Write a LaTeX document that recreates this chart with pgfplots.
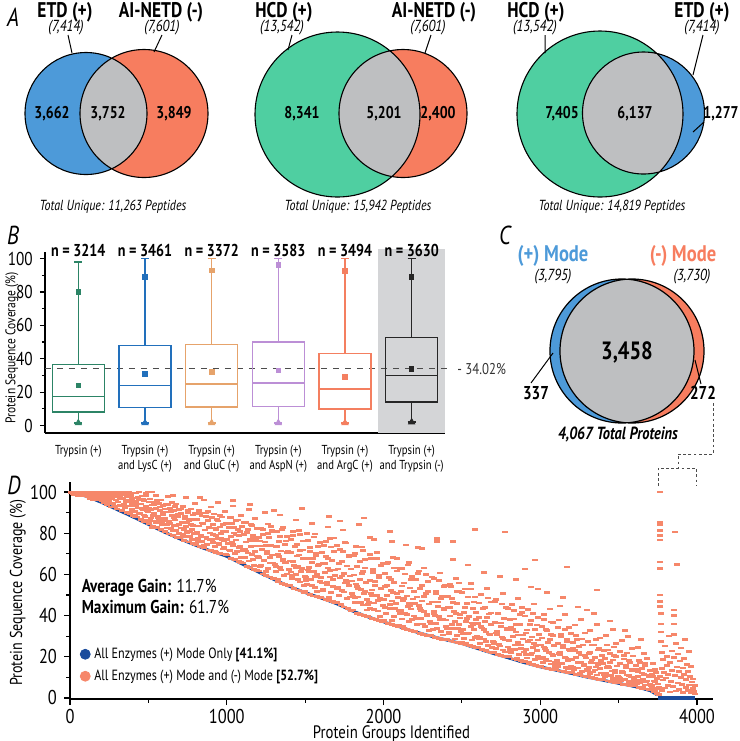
\documentclass[border=0pt]{standalone}
\usepackage{fontspec}
\setmainfont{PT Sans}[FakeStretch=0.82]
\usepackage{pgfplots}
\pgfplotsset{compat=1.18}
\usepgfplotslibrary{statistics}
\newcommand{\fs}[2]{\fontsize{#1}{#2}\selectfont}
\definecolor{vblue}{HTML}{4D9AD9}
\definecolor{vorange}{HTML}{F77D5F}
\definecolor{vgreen}{HTML}{4FCFA1}
\definecolor{vgray}{HTML}{BEBFC1}
\definecolor{bgreen}{HTML}{2C8466}
\definecolor{bblue}{HTML}{2270BC}
\definecolor{btan}{HTML}{E6A36B}
\definecolor{bpurple}{HTML}{BC8FD6}
\definecolor{bred}{HTML}{F47F60}
\definecolor{bgshade}{HTML}{D4D5D7}
\definecolor{dblue}{HTML}{1B4C9C}
\definecolor{dorange}{HTML}{F6876A}
\begin{document}
\begin{tikzpicture}
\useasboundingbox (0,0) rectangle (370pt,-370.5pt);
\begin{scope}[x=0.5pt,y=-0.5pt]
% ---------- Panel A ----------
\node[font=\fs{13}{14}\itshape] at (13,17) {A};
% Venn 1
\fill[vblue] (86,113.5) circle[radius=61];
\fill[vorange] (144,113.5) circle[radius=64];
\begin{scope}\clip (86,113.5) circle[radius=61]; \fill[vgray] (144,113.5) circle[radius=64];\end{scope}
\draw[line width=0.55pt] (86,113.5) circle[radius=61] (144,113.5) circle[radius=64];
\draw[line width=0.5pt] (68,35)--(72,53) (162,35)--(154,52);
\node[font=\fs{10.6}{12}\bfseries] at (65,12) {ETD (+)};
\node[font=\fs{10.6}{12}\bfseries] at (161,12) {AI-NETD (-)};
\node[font=\fs{8}{9}\itshape] at (66,28) {(7,414)};
\node[font=\fs{8}{9}\itshape] at (162,28) {(7,601)};
\node[font=\fs{8.5}{9}\bfseries] at (52,114) {3,662};
\node[font=\fs{8.5}{9}\bfseries] at (108,114) {3,752};
\node[font=\fs{8.5}{9}\bfseries] at (174,114) {3,849};
\node[font=\fs{7.3}{8}\itshape] at (113,207) {Total Unique: 11,263 Peptides};
% Venn 2
\fill[vgreen] (337.5,114.5) circle[radius=82.5];
\fill[vorange] (403,113.5) circle[radius=64];
\begin{scope}\clip (337.5,114.5) circle[radius=82.5]; \fill[vgray] (403,113.5) circle[radius=64];\end{scope}
\draw[line width=0.55pt] (337.5,114.5) circle[radius=82.5] (403,113.5) circle[radius=64];
\draw[line width=0.5pt] (292,35)--(288,50) (431,35)--(425,53);
\node[font=\fs{10.6}{12}\bfseries] at (284,12) {HCD (+)};
\node[font=\fs{10.6}{12}\bfseries] at (434,12) {AI-NETD (-)};
\node[font=\fs{8}{9}\itshape] at (282,28) {(13,542)};
\node[font=\fs{8}{9}\itshape] at (428,28) {(7,601)};
\node[font=\fs{8.5}{9}\bfseries] at (302,114) {8,341};
\node[font=\fs{8.5}{9}\bfseries] at (384,114) {5,201};
\node[font=\fs{8.5}{9}\bfseries] at (438,114) {2,400};
\node[font=\fs{7.3}{8}\itshape] at (358,207) {Total Unique: 15,942 Peptides};
% Venn 3
\fill[vgreen] (600,114) circle[radius=83];
\fill[vblue] (643.5,113) circle[radius=61];
\begin{scope}\clip (600,114) circle[radius=83]; \fill[vgray] (643.5,113) circle[radius=61];\end{scope}
\draw[line width=0.55pt] (600,114) circle[radius=83] (643.5,113) circle[radius=61];
\draw[line width=0.5pt] (545,35)--(545,53) (703,35)--(693,75) (704,122)--(693,132);
\node[font=\fs{10.6}{12}\bfseries] at (536,12) {HCD (+)};
\node[font=\fs{10.6}{12}\bfseries] at (702,12) {ETD (+)};
\node[font=\fs{8}{9}\itshape] at (535,28) {(13,542)};
\node[font=\fs{8}{9}\itshape] at (702,28) {(7,414)};
\node[font=\fs{8.5}{9}\bfseries] at (562,114) {7,405};
\node[font=\fs{8.5}{9}\bfseries] at (635,114) {6,137};
\node[font=\fs{8.5}{9}\bfseries] at (721,114) {1,277};
\node[font=\fs{7.3}{8}\itshape] at (612,207) {Total Unique: 14,819 Peptides};
% ---------- Panel B / C / D letters ----------
\node[font=\fs{13}{14}\itshape] at (13,235) {B};
\node[font=\fs{13}{14}\itshape] at (505,235) {C};
\node[font=\fs{13}{14}\itshape] at (14,485) {D};
% ---------- Panel C ----------
\fill[vblue] (622,351) circle[radius=72];
\fill[vorange] (632,351) circle[radius=72];
\begin{scope}\clip (622,351) circle[radius=72]; \fill[vgray] (632,351) circle[radius=72];\end{scope}
\draw[line width=0.6pt] (622,351) circle[radius=72] (632,351) circle[radius=72];
\draw[line width=0.5pt] (531,383)--(553,353) (701,384)--(695,360);
\node[font=\fs{11.3}{13}\bfseries, text=vblue] at (553,256) {(+) Mode};
\node[font=\fs{11.3}{13}\bfseries, text=vorange] at (683,256) {(-) Mode};
\node[font=\fs{8}{9}\itshape] at (553,277) {(3,795)};
\node[font=\fs{8}{9}\itshape] at (692,277) {(3,730)};
\node[font=\fs{12.5}{14}\bfseries] at (627,352) {3,458};
\node[font=\fs{9.3}{10}\bfseries] at (536,393) {337};
\node[font=\fs{9.3}{10}\bfseries] at (703,393) {272};
\node[font=\fs{8.8}{10}\bfseries\itshape] at (618,435) {4,067 Total Proteins};
\draw[gray!60!black, line width=0.5pt, dash pattern=on 1.4pt off 1.2pt] (713,403)--(713,454)--(678,454)--(678,468) (658,486)--(658,468)--(696,468)--(696,486);
\end{scope}
% ---------- Panel B axis ----------
\begin{axis}[at={(22.5pt,-216.5pt)}, anchor=south west, scale only axis,
  width=200pt, height=90.5pt,
  xmin=0.5, xmax=6.5, ymin=-4.5, ymax=104,
  axis lines=left, axis line style={-, line width=0.6pt},
  tick align=outside, tick style={black, line width=0.6pt},
  major tick length=2.6pt, minor tick length=1.6pt,
  ytick={0,20,...,100}, minor y tick num=1,
  xtick={1,2,3,4,5,6}, major x tick style={draw=none},
  xticklabels={Trypsin (+), {Trypsin (+)\\and LysC (+)}, {Trypsin (+)\\and GluC (+)}, {Trypsin (+)\\and AspN (+)}, {Trypsin (+)\\and ArgC (+)}, {Trypsin (+)\\and Trypsin (-)}},
  xticklabel style={align=center, font=\fs{6.5}{7.6}},
  yticklabel style={font=\fs{9.3}{10}},
  /pgf/number format/assume math mode=true,
  ylabel={Protein Sequence Coverage (\%)},
  ylabel style={font=\fs{7}{8}, at={(axis description cs:-0.0825,0.47)}, anchor=center},
  clip=false]
\addplot[fill=bgshade, draw=none] coordinates {(5.5,-4.2)(5.5,106)(6.5,106)(6.5,-4.2)} --cycle;
\addplot[dashed, gray!60!black, line width=0.6pt] coordinates {(0.5,34.02)(6.6,34.02)};
\node[anchor=west, font=\fs{7.8}{9}, text=gray!40!black] at (axis cs:6.58,34.02) {- 34.02\%};
% box 1
\addplot[bgreen, line width=0.8pt, boxplot prepared={draw direction=y, draw position=1, lower whisker=1.5, lower quartile=8.2, median=17.4, upper quartile=36.5, upper whisker=98, box extend=0.78, whisker extend=0.12}] coordinates {};
\addplot[only marks, mark=square*, mark size=1.2pt, bgreen] coordinates {(1,24)(1,80)};
\addplot[only marks, mark=triangle*, mark size=1.8pt, bgreen] coordinates {(1,1.5)};
% box 2
\addplot[bblue, line width=0.8pt, boxplot prepared={draw direction=y, draw position=2, lower whisker=1.5, lower quartile=10.8, median=24, upper quartile=47.9, upper whisker=100, box extend=0.78, whisker extend=0.12}] coordinates {};
\addplot[only marks, mark=square*, mark size=1.2pt, bblue] coordinates {(2,31)(2,89)};
\addplot[only marks, mark=triangle*, mark size=1.8pt, bblue] coordinates {(2,1.5)};
% box 3
\addplot[btan, line width=0.8pt, boxplot prepared={draw direction=y, draw position=3, lower whisker=1.5, lower quartile=11, median=25, upper quartile=48.5, upper whisker=100, box extend=0.78, whisker extend=0.12}] coordinates {};
\addplot[only marks, mark=square*, mark size=1.2pt, btan] coordinates {(3,32)(3,93)};
\addplot[only marks, mark=triangle*, mark size=1.8pt, btan] coordinates {(3,1.5)};
% box 4
\addplot[bpurple, line width=0.8pt, boxplot prepared={draw direction=y, draw position=4, lower whisker=1.5, lower quartile=11.5, median=25.5, upper quartile=50, upper whisker=100, box extend=0.78, whisker extend=0.12}] coordinates {};
\addplot[only marks, mark=square*, mark size=1.2pt, bpurple] coordinates {(4,33)(4,96.5)};
\addplot[only marks, mark=triangle*, mark size=1.8pt, bpurple] coordinates {(4,1.5)};
% box 5
\addplot[bred, line width=0.8pt, boxplot prepared={draw direction=y, draw position=5, lower whisker=1.5, lower quartile=10, median=22, upper quartile=43.2, upper whisker=100, box extend=0.78, whisker extend=0.12}] coordinates {};
\addplot[only marks, mark=square*, mark size=1.2pt, bred] coordinates {(5,29)(5,92.5)};
\addplot[only marks, mark=triangle*, mark size=1.8pt, bred] coordinates {(5,1.5)};
% box 6
\addplot[black!85, line width=0.8pt, boxplot prepared={draw direction=y, draw position=6, lower whisker=2, lower quartile=14, median=30, upper quartile=52.7, upper whisker=100, box extend=0.78, whisker extend=0.12}] coordinates {};
\addplot[only marks, mark=square*, mark size=1.1pt, black!85] coordinates {(6,34)(6,89)};
\addplot[only marks, mark=triangle*, mark size=1.8pt, black!85] coordinates {(6,2)};
\node[font=\fs{8.6}{9}\bfseries] at (axis cs:1,105) {n = 3214};
\node[font=\fs{8.6}{9}\bfseries] at (axis cs:2,105) {n = 3461};
\node[font=\fs{8.6}{9}\bfseries] at (axis cs:3,105) {n = 3372};
\node[font=\fs{8.6}{9}\bfseries] at (axis cs:4,105) {n = 3583};
\node[font=\fs{8.6}{9}\bfseries] at (axis cs:5,105) {n = 3494};
\node[font=\fs{8.6}{9}\bfseries] at (axis cs:6,105) {n = 3630};
\end{axis}
% ---------- Panel D axis ----------
\begin{axis}[at={(35pt,-349.5pt)}, anchor=south west, scale only axis,
  width=321.5pt, height=108.5pt,
  xmin=0, xmax=4102, ymin=-0.5, ymax=104.9,
  axis lines=left, axis line style={-, line width=0.6pt},
  tick align=outside, tick style={black, line width=0.6pt},
  major tick length=3pt, minor tick length=1.8pt,
  xtick={0,1000,2000,3000,4000}, minor x tick num=1,
  ytick={0,20,...,100}, minor y tick num=1,
  scaled x ticks=false,
  /pgf/number format/1000 sep={},
  /pgf/number format/assume math mode=true,
  ticklabel style={font=\fs{10}{11}},
  xticklabel style={yshift=1.5pt},
  xlabel={Protein Groups Identified}, ylabel={Protein Sequence Coverage (\%)},
  xlabel style={font=\fs{9}{10}, at={(axis description cs:0.5,-0.163)}, anchor=center},
  ylabel style={font=\fs{8.6}{10}, at={(axis description cs:-0.081,0.49)}, anchor=center},
  legend style={at={(0.006,0.035)}, anchor=south west, draw=none, fill=none, font=\fs{7.4}{8.5}, row sep=0.2pt},
  legend cell align=left,
  clip=false]
\addplot[dblue, line width=1.4pt, forget plot] coordinates {(0,100)(50,99.2)(100,98)(150,96.6)(200,95)(300,91.5)(400,88)(500,84.3)(600,80.6)(700,77.3)(800,74.2)(900,71.4)(1000,68.8)(1100,65)(1200,61.2)(1300,57.6)(1400,54.2)(1500,51.2)(1600,48.6)(1700,45.8)(1800,42.3)(1900,39.4)(2000,37)(2100,34.6)(2200,32.2)(2300,30.1)(2400,28.2)(2500,26.4)(2600,24)(2700,21.6)(2800,19.4)(2900,17.1)(3000,15.1)(3100,13.5)(3200,11.9)(3300,10.1)(3400,8.6)(3500,7.1)(3600,5.6)(3700,3.6)(3745,1.5)};
\addplot[only marks, mark=-, mark size=1.5pt, mark options={line width=1.35pt}, dorange, forget plot] coordinates {
(4,99.8)(9,99.5)(13,100)(18,99.2)(22,99.6)(27,98.9)(31,100)(36,99.4)(40,98.6)(45,99.9)(49,99.1)(54,98.4)(58,100)(63,99.3)(67,98.8)(72,99.7)(76,98.2)(81,99.5)(85,98.9)(90,100)(95,98.5)(98,99.2)
(103,99.6)(107,98.1)(112,100)(116,97.6)(121,99.3)(125,98.7)(130,96.9)(134,100)(139,97.8)(143,99.1)(148,96.5)(152,98.4)(157,100)(161,97.2)(166,99.5)(170,96.2)(175,98.9)(179,97.5)(184,100)(188,96.8)(193,98.2)(197,99.7)
(202,95.8)(206,99.4)(211,97.1)(215,100)(220,94.9)(224,98.3)(229,96.4)(233,99.8)(238,93.9)(242,97.7)(247,100)(251,95.3)(256,98.9)(260,92.8)(265,96.6)(269,99.2)(274,94.4)(278,97.9)(283,100)(287,93.1)(292,96.1)(296,98.6)
(303,91.8)(307,95.2)(312,99.5)(316,97.4)(321,93.6)(325,100)(330,90.9)(334,96.7)(339,98.8)(343,94.1)(348,92.4)(352,99.9)(357,96.1)(361,90.2)(366,97.9)(370,93.3)(375,100)(379,95.6)(384,89.4)(388,98.3)(393,91.7)(397,96.9)
(402,88.7)(406,93.5)(411,97.2)(415,90.6)(420,99.6)(424,95.1)(429,87.9)(433,92.3)(438,100)(442,96.4)(447,89.8)(451,94.2)(456,86.9)(460,98.1)(465,91.4)(469,85.6)(474,95.9)(478,88.3)(483,93.1)(487,99.2)(492,86.2)(496,90.7)
(502,84.8)(506,91.9)(511,96.6)(515,87.4)(520,93.8)(524,100)(529,83.6)(533,89.5)(538,95.2)(542,85.9)(547,92.1)(551,98.4)(556,82.7)(560,88.1)(565,94.5)(569,86.3)(574,90.9)(578,81.9)(583,96.2)(587,84.6)(592,89.2)(596,93.4)
(603,80.9)(607,87.2)(612,93.9)(616,84.1)(621,90.3)(625,97.8)(630,79.6)(634,85.7)(639,92.1)(643,82.4)(648,88.6)(652,95.1)(657,78.9)(661,83.8)(666,90.9)(670,86.5)(675,81.2)(679,94.2)(684,78.1)(688,88.1)(693,84.3)(697,91.6)
(702,77.8)(706,82.6)(711,89.7)(715,85.1)(720,92.9)(724,79.4)(729,76.6)(733,87.3)(738,83.2)(742,97.5)(747,80.5)(751,90.2)(756,75.8)(760,86.1)(765,78.6)(769,84.4)(774,91.8)(778,81.7)(783,75.1)(787,88.9)(792,79.9)(796,94.3)
(803,74.7)(807,80.3)(812,86.9)(816,77.4)(821,91.2)(825,83.5)(830,73.6)(834,79.1)(839,88.4)(843,75.9)(848,84.8)(852,96.1)(857,72.8)(861,81.6)(866,78.2)(870,89.9)(875,74.4)(879,86.2)(884,71.9)(888,82.9)(893,77.1)(897,92.7)
(902,71.7)(906,76.9)(911,84.2)(915,79.3)(920,89.4)(924,73.5)(929,81.8)(933,70.8)(938,86.7)(942,77.6)(947,94.8)(951,74.9)(956,83.1)(960,70.2)(965,79.8)(969,87.9)(974,72.4)(978,81.1)(983,76.2)(987,90.5)(992,69.6)(996,84.6)
(1003,69.5)(1007,75.2)(1012,82.7)(1016,71.9)(1021,87.6)(1025,78.4)(1030,67.9)(1034,84.9)(1039,74.1)(1043,93.2)(1048,80.1)(1052,67.1)(1057,76.8)(1061,86.3)(1066,71.2)(1070,81.9)(1075,66.4)(1079,78.9)(1084,73.7)(1088,88.8)(1093,65.9)(1097,83.4)
(1102,65.6)(1106,71.8)(1111,79.5)(1115,68.3)(1120,85.1)(1124,75.7)(1129,63.9)(1133,81.7)(1138,70.4)(1142,91.6)(1147,77.2)(1151,63.1)(1156,73.6)(1160,83.9)(1165,67.2)(1169,79.1)(1174,62.3)(1178,87.2)(1183,71.3)(1187,76.4)(1192,61.8)(1196,68.9)
(1203,61.7)(1207,68.1)(1212,76.3)(1216,64.5)(1221,82.6)(1225,72.2)(1230,60.2)(1234,79.4)(1239,66.7)(1243,90.1)(1248,74.1)(1252,59.4)(1257,70.3)(1261,84.5)(1266,62.9)(1270,77.8)(1275,58.8)(1279,68.4)(1284,73.9)(1288,81.3)(1293,58.1)(1297,65.6)
(1302,58.2)(1306,64.8)(1311,73.4)(1315,61.6)(1320,80.8)(1324,69.7)(1329,56.4)(1333,76.1)(1338,63.3)(1342,88.9)(1347,71.4)(1351,55.6)(1356,67.2)(1360,82.7)(1365,59.5)(1369,74.7)(1374,55.1)(1378,65.9)(1383,70.8)(1387,78.6)(1392,54.6)(1396,62.4)
(1403,54.8)(1407,61.2)(1412,70.6)(1416,58.1)(1421,78.9)(1425,66.3)(1430,53.2)(1434,73.7)(1439,60.1)(1443,86.4)(1448,68.9)(1452,52.4)(1457,64.1)(1461,81.2)(1466,56.3)(1470,71.6)(1475,51.9)(1479,62.8)(1484,76.3)(1488,67.7)(1493,51.3)(1497,58.9)
(1502,51.7)(1506,58.4)(1511,67.9)(1515,55.2)(1520,76.6)(1524,63.4)(1529,50.3)(1533,71.1)(1538,57.6)(1542,84.8)(1547,65.8)(1551,49.6)(1556,61.3)(1560,79.7)(1565,53.8)(1569,69.2)(1574,49.2)(1578,60.1)(1583,73.6)(1587,64.9)(1592,48.8)(1596,56.6)
(1603,49.1)(1607,55.8)(1612,65.3)(1616,52.6)(1621,74.2)(1625,60.9)(1630,47.9)(1634,68.8)(1639,55.1)(1643,83.1)(1648,63.2)(1652,47.2)(1657,58.7)(1661,77.4)(1666,51.4)(1670,66.7)(1675,46.8)(1679,57.4)(1684,71.3)(1688,62.1)(1693,46.3)(1697,53.9)
(1702,46.6)(1706,52.9)(1711,62.7)(1715,49.8)(1720,72.1)(1724,58.3)(1729,45.1)(1733,66.2)(1738,52.2)(1742,81.6)(1747,60.6)(1751,44.2)(1756,55.8)(1760,75.3)(1765,48.4)(1769,64.1)(1774,43.5)(1778,54.7)(1783,69.4)(1787,59.2)(1792,42.6)(1796,50.9)
(1803,42.7)(1807,49.6)(1812,59.8)(1816,46.5)(1821,70.3)(1825,55.4)(1830,41.2)(1834,63.9)(1839,49.1)(1843,84.2)(1848,57.7)(1852,40.6)(1857,52.8)(1861,73.4)(1866,45.2)(1870,61.5)(1875,40.1)(1879,51.6)(1884,67.1)(1888,56.2)(1893,39.4)(1897,47.8)
(1902,39.8)(1906,46.4)(1911,56.9)(1915,43.4)(1920,67.8)(1924,52.5)(1929,38.6)(1933,61.1)(1938,46.2)(1942,76.9)(1947,54.7)(1951,38.1)(1956,49.7)(1960,70.6)(1965,42.3)(1969,58.6)(1974,37.5)(1978,48.4)(1983,64.3)(1987,53.2)(1992,37.2)(1996,44.9)
(2003,37.6)(2007,43.9)(2012,54.2)(2016,40.8)(2021,65.4)(2025,49.9)(2030,36.2)(2034,58.5)(2039,43.6)(2043,80.8)(2048,52.1)(2052,35.7)(2057,47.1)(2061,68.2)(2066,39.7)(2070,56.1)(2075,35.1)(2079,45.8)(2084,61.7)(2088,50.6)(2093,34.7)(2097,42.4)
(2102,35.1)(2106,41.2)(2111,51.6)(2115,38.3)(2120,62.9)(2124,47.3)(2129,33.8)(2133,55.9)(2138,41.1)(2142,74.3)(2147,49.6)(2151,33.3)(2156,44.5)(2160,65.7)(2165,37.2)(2169,53.4)(2174,32.7)(2178,43.2)(2183,59.1)(2187,48.1)(2192,32.3)(2196,39.8)
(2203,32.6)(2207,38.7)(2212,49.1)(2216,35.8)(2221,60.4)(2225,44.8)(2230,31.4)(2234,53.3)(2239,38.6)(2243,72.6)(2248,47.1)(2252,30.9)(2257,42.1)(2261,63.2)(2266,34.7)(2270,50.8)(2275,30.4)(2279,40.7)(2284,56.6)(2288,45.6)(2293,30.1)(2297,37.3)
(2302,30.6)(2306,36.2)(2311,46.6)(2315,33.4)(2320,57.9)(2324,42.3)(2329,29.4)(2333,50.8)(2338,36.1)(2342,77.4)(2347,44.6)(2351,28.9)(2356,39.6)(2360,60.7)(2365,32.2)(2369,48.3)(2374,28.4)(2378,38.2)(2383,54.1)(2387,43.1)(2392,28.1)(2396,34.8)
(2403,28.6)(2407,33.7)(2412,44.1)(2416,31.1)(2421,55.4)(2425,39.8)(2430,27.7)(2434,48.3)(2439,33.6)(2443,67.2)(2448,42.1)(2452,27.2)(2457,37.1)(2461,58.2)(2466,30.3)(2470,45.8)(2475,26.9)(2479,35.7)(2484,51.6)(2488,40.6)(2493,26.6)(2497,32.3)
(2502,27.1)(2506,31.2)(2511,41.6)(2515,28.8)(2520,52.9)(2524,37.3)(2529,25.9)(2533,45.8)(2538,31.1)(2542,64.6)(2547,39.6)(2551,25.4)(2556,34.6)(2560,55.7)(2565,28.1)(2569,43.3)(2574,24.9)(2578,33.2)(2583,49.1)(2587,38.1)(2592,24.4)(2596,29.8)
(2603,24.6)(2607,28.7)(2612,39.1)(2616,26.4)(2621,50.4)(2625,34.8)(2630,23.5)(2634,43.3)(2639,28.6)(2643,61.1)(2648,37.1)(2652,23.1)(2657,32.1)(2661,53.2)(2666,25.6)(2670,40.8)(2675,22.4)(2679,30.7)(2684,46.6)(2688,35.6)(2693,21.9)(2697,27.3)
(2702,22.1)(2706,26.2)(2711,36.6)(2715,24.2)(2720,47.9)(2724,32.3)(2729,21.1)(2733,40.8)(2738,26.1)(2742,58.9)(2747,34.6)(2751,20.7)(2756,29.6)(2760,50.7)(2765,23.3)(2769,38.3)(2774,20.3)(2778,28.2)(2783,44.1)(2787,33.1)(2792,19.9)(2796,24.8)
(2803,20.1)(2807,23.7)(2812,34.1)(2816,21.8)(2821,45.4)(2825,29.8)(2830,18.9)(2834,38.3)(2839,23.6)(2843,57.4)(2848,32.1)(2852,18.4)(2857,27.1)(2861,48.2)(2866,21.1)(2870,35.8)(2875,18.1)(2879,25.7)(2884,41.6)(2888,30.6)(2893,17.6)(2897,22.3)
(2902,17.7)(2906,21.2)(2911,31.6)(2915,19.4)(2920,42.9)(2924,27.3)(2929,16.6)(2933,35.8)(2938,21.1)(2942,53.9)(2947,29.6)(2951,16.2)(2956,24.6)(2960,45.7)(2965,18.7)(2969,33.3)(2974,15.8)(2978,23.2)(2983,39.1)(2987,28.1)(2992,15.3)(2996,19.8)
(3003,15.6)(3007,18.9)(3012,29.1)(3016,17.2)(3021,40.4)(3025,24.8)(3030,14.6)(3034,33.3)(3039,18.6)(3043,51.4)(3048,27.1)(3052,14.2)(3057,22.1)(3061,43.2)(3066,16.5)(3070,30.8)(3075,13.9)(3079,20.7)(3084,36.6)(3088,25.6)(3093,13.6)(3097,17.4)
(3102,14.1)(3106,16.9)(3111,26.6)(3115,15.3)(3120,37.9)(3124,22.3)(3129,13.1)(3133,30.8)(3138,16.6)(3142,48.9)(3147,24.6)(3151,12.8)(3156,19.6)(3160,40.7)(3165,14.7)(3169,28.3)(3174,12.5)(3178,18.2)(3183,34.1)(3187,23.1)(3192,12.2)(3196,15.6)
(3203,12.6)(3207,15.1)(3212,24.1)(3216,13.6)(3221,35.4)(3225,19.8)(3230,11.4)(3234,28.3)(3239,14.6)(3243,44.2)(3248,22.1)(3252,11.1)(3257,17.1)(3261,38.2)(3266,12.9)(3270,25.8)(3275,10.7)(3279,16.2)(3284,31.6)(3288,20.6)(3293,10.4)(3297,13.8)
(3302,10.6)(3306,13.2)(3311,21.6)(3315,11.8)(3320,32.9)(3324,17.3)(3329,9.8)(3333,25.8)(3338,12.6)(3342,40.9)(3347,19.6)(3351,9.5)(3356,15.1)(3360,35.7)(3365,11.1)(3369,23.3)(3374,9.1)(3378,14.2)(3383,29.1)(3387,18.1)(3392,8.8)(3396,12.1)
(3403,9.1)(3407,11.4)(3412,19.1)(3416,10.2)(3421,30.4)(3425,14.8)(3430,8.2)(3434,23.3)(3439,10.9)(3443,37.4)(3448,17.1)(3452,7.9)(3457,13.1)(3461,33.2)(3466,9.5)(3470,20.8)(3475,7.6)(3479,12.2)(3484,26.6)(3488,15.6)(3493,7.3)(3497,10.3)
(3502,7.6)(3506,9.6)(3511,16.6)(3515,8.6)(3520,27.9)(3524,12.3)(3529,6.7)(3533,20.8)(3538,9.2)(3542,32.9)(3547,14.6)(3551,6.4)(3556,11.1)(3560,29.7)(3565,7.9)(3569,18.3)(3574,6.1)(3578,10.2)(3583,24.1)(3587,13.1)(3592,5.8)(3596,8.6)
(3603,6.1)(3607,7.9)(3612,14.1)(3616,7.1)(3621,24.4)(3625,10.3)(3630,5.1)(3634,17.3)(3639,7.6)(3643,28.4)(3648,12.1)(3652,4.7)(3657,9.1)(3661,21.7)(3666,6.3)(3670,15.8)(3675,4.3)(3679,8.2)(3684,19.1)(3688,11.1)(3693,3.9)(3697,6.6)
(3702,4.1)(3706,6.2)(3711,11.6)(3715,5.3)(3720,16.9)(3724,8.3)(3729,3.1)(3733,13.8)(3738,4.6)(3742,9.4)(3745,2.2)(3748,6.8)
(3758,1.8)(3760,5.2)(3762,10.6)(3764,100)(3764,85.4)(3764,84)(3764,81.5)(3764,79)(3764,76.7)(3764,66)(3764,63)(3764,50)(3766,47)(3766,44.5)(3768,41)(3768,36)(3770,32)(3772,27.5)(3774,22.1)(3776,14.3)(3778,3.8)(3782,8.7)(3786,18.6)(3790,12.4)(3794,25.2)(3798,4.9)(3802,9.7)(3806,15.8)(3810,20.3)(3814,6.2)(3818,11.5)(3822,30.1)(3826,2.9)(3830,17.4)(3834,8.1)(3838,22.8)(3842,13.2)(3846,5.6)(3850,42.7)(3850,40)(3852,36)(3854,31)(3856,19.7)(3860,80.6)(3860,10.9)(3864,26.6)(3868,3.4)(3872,65)(3872,15.1)(3876,7.3)(3880,21.4)(3884,12.7)(3888,4.2)(3892,17.9)(3896,9.8)(3900,24.3)(3904,6.7)(3908,14.6)(3912,2.6)(3916,19.2)(3920,11.3)(3924,28.4)(3928,5.1)(3932,8.9)(3936,16.2)(3940,3.7)(3944,12.8)(3948,22.6)(3952,6.3)(3956,10.4)(3960,2.4)(3964,15.3)(3968,7.7)(3972,4.5)(3976,9.2)(3980,3.1)(3984,6.1)(3988,1.9)
(1876,87.4)(1914,78)(2054,76)(2220,73)(2341,76)(2443,76)(2584,82)(2775,80.6)(2967,67)(2903,62.6)(3171,63.6)(3362,52.4)(2986,53)(3126,44.7)(3298,42.7)(500,100)(660,98.5)(830,97.5)(1040,96)(1480,92)(1150,94)(1300,91)(1650,88)(1720,86)
(15,99.9)(35,99.7)(55,99.6)(78,99.4)(120,99.8)(145,99.2)(165,98.9)(190,99.6)(210,99.5)(230,98.7)(252,97.8)(270,99.9)(290,99.1)(305,98.2)(320,99.8)(340,97.2)(355,95.3)(372,98.9)(390,99.6)(398,94.4)
(401,90.6)(409,95.4)(416,88.0)(423,93.2)(431,97.4)(437,89.6)(445,94.2)(452,86.7)(459,91.9)(467,96.4)(474,88.9)(483,98.1)(491,90.9)
(504,95.2)(510,86.2)(518,91.5)(526,82.8)(531,88.8)(539,94.0)(546,85.3)(553,96.0)(561,87.7)(568,87.3)(576,92.8)(584,84.3)(593,90.3)
(602,86.2)(608,91.8)(617,82.5)(623,93.9)(632,85.1)(638,84.6)(645,90.5)(655,81.4)(662,87.8)(668,93.1)(677,83.5)(686,89.1)(694,79.8)
(703,79.7)(711,91.8)(717,82.5)(726,82.0)(734,88.2)(740,78.6)(749,85.4)(755,91.0)(763,80.8)(771,86.7)(779,76.9)(786,83.7)(795,89.6)
(801,79.7)(808,86.7)(815,75.9)(824,83.5)(829,89.7)(838,78.3)(844,85.0)(853,74.0)(860,81.6)(867,88.2)(876,77.2)(882,90.7)(891,80.2)
(904,87.6)(912,75.6)(919,82.6)(926,71.0)(934,79.0)(941,86.0)(949,74.4)(955,88.6)(962,77.6)(971,77.0)(978,84.4)(985,73.0)(994,81.0)
(1002,76.9)(1009,84.6)(1018,71.8)(1024,87.5)(1031,75.4)(1038,74.7)(1046,82.8)(1054,70.3)(1061,79.1)(1069,86.4)(1077,73.2)(1083,80.9)(1092,68.1)
(1104,68.3)(1110,85.3)(1117,72.1)(1125,71.4)(1132,80.3)(1140,66.6)(1146,76.2)(1154,84.1)(1163,69.7)(1170,78.1)(1176,64.2)(1185,73.8)(1193,82.2)
(1201,68.8)(1208,78.0)(1215,63.8)(1223,73.8)(1230,82.0)(1236,67.0)(1244,75.8)(1252,61.3)(1259,71.3)(1266,80.0)(1274,65.5)(1282,83.3)(1290,69.5)
(1303,80.6)(1311,63.8)(1318,73.6)(1325,57.4)(1333,68.6)(1340,78.4)(1347,62.2)(1355,82.0)(1362,66.6)(1370,65.8)(1377,76.2)(1384,60.2)(1393,71.4)
(1402,66.5)(1410,77.0)(1417,59.6)(1424,80.9)(1432,64.4)(1439,63.5)(1446,74.6)(1454,57.5)(1461,69.5)(1469,79.4)(1476,61.4)(1484,71.9)(1492,54.5)
(1504,57.0)(1511,79.8)(1519,62.2)(1526,61.2)(1533,73.0)(1541,54.8)(1548,67.6)(1555,78.2)(1563,59.0)(1570,70.2)(1578,51.6)(1585,64.4)(1593,75.6)
(1601,58.6)(1609,70.8)(1616,52.0)(1624,65.2)(1631,76.0)(1638,56.2)(1646,67.8)(1653,48.7)(1660,61.9)(1668,73.4)(1675,54.3)(1683,77.7)(1691,59.5)
(1703,73.9)(1710,53.5)(1718,65.4)(1726,45.7)(1733,59.3)(1740,71.2)(1748,51.5)(1756,75.6)(1762,56.9)(1770,55.9)(1778,68.5)(1785,49.1)(1793,62.7)
(1802,56.8)(1810,69.0)(1817,48.7)(1825,73.6)(1832,54.3)(1840,53.3)(1847,66.2)(1855,46.3)(1862,60.3)(1870,71.8)(1877,50.8)(1885,63.1)(1892,42.8)
(1904,45.5)(1911,69.6)(1918,50.9)(1926,49.9)(1934,62.5)(1941,43.1)(1948,56.7)(1956,67.9)(1963,47.5)(1971,59.4)(1978,39.7)(1986,53.3)(1994,65.2)
(2001,47.9)(2009,60.5)(2016,41.1)(2024,54.7)(2031,65.9)(2039,45.5)(2046,57.4)(2054,37.7)(2061,51.3)(2068,63.2)(2076,43.5)(2084,67.6)(2091,48.9)
(2103,62.9)(2110,42.5)(2118,54.4)(2125,34.7)(2132,48.3)(2140,60.2)(2147,40.5)(2155,64.6)(2162,45.9)(2169,44.9)(2177,57.5)(2184,38.1)(2192,51.7)
(2202,45.9)(2209,57.4)(2217,38.3)(2224,61.7)(2232,43.5)(2239,42.6)(2247,54.8)(2254,36.0)(2261,49.2)(2269,60.0)(2276,40.2)(2284,51.8)(2291,32.7)
(2304,36.0)(2311,58.8)(2319,41.2)(2326,40.2)(2333,52.0)(2341,33.8)(2348,46.6)(2356,57.2)(2363,38.0)(2371,49.2)(2378,30.6)(2386,43.4)(2393,54.6)
(2401,37.9)(2409,49.3)(2416,31.7)(2424,44.1)(2431,54.3)(2438,35.7)(2446,46.5)(2453,28.6)(2461,41.0)(2468,51.8)(2476,33.8)(2483,55.8)(2491,38.8)
(2503,51.4)(2510,33.4)(2518,43.9)(2525,26.5)(2533,38.5)(2540,49.0)(2548,31.6)(2555,52.9)(2562,36.4)(2570,35.5)(2577,46.6)(2585,29.5)(2592,41.5)
(2602,36.1)(2609,46.2)(2617,29.4)(2624,50.0)(2631,34.0)(2639,33.2)(2646,43.9)(2654,27.4)(2661,39.0)(2669,48.5)(2676,31.1)(2684,41.3)(2691,24.5)
(2704,27.2)(2711,47.0)(2719,31.6)(2726,30.8)(2733,41.2)(2741,25.2)(2748,36.4)(2756,45.6)(2763,28.8)(2771,38.6)(2778,22.4)(2786,33.6)(2793,43.4)
(2801,27.8)(2809,38.2)(2816,22.2)(2824,33.4)(2831,42.6)(2838,25.8)(2846,35.6)(2853,19.4)(2861,30.6)(2868,40.4)(2876,24.2)(2883,44.0)(2891,28.6)
(2903,39.8)(2910,23.6)(2918,33.0)(2925,17.4)(2933,28.2)(2940,37.6)(2948,21.9)(2955,41.1)(2962,26.3)(2970,25.5)(2977,35.4)(2985,20.1)(2992,30.9)
(3002,25.7)(3009,34.8)(3017,19.7)(3024,38.2)(3031,23.9)(3039,23.1)(3046,32.7)(3054,17.9)(3061,28.3)(3069,36.9)(3076,21.3)(3084,30.4)(3091,15.3)
(3104,18.1)(3111,34.4)(3119,21.7)(3126,21.1)(3133,29.6)(3141,16.5)(3148,25.7)(3156,33.2)(3163,19.4)(3171,27.5)(3178,14.2)(3186,23.4)(3193,31.4)
(3201,18.7)(3209,26.8)(3216,14.3)(3224,23.1)(3231,30.4)(3238,17.2)(3246,24.9)(3253,12.1)(3261,20.9)(3268,28.6)(3276,15.8)(3283,31.5)(3291,19.4)
(3303,27.5)(3310,14.9)(3318,22.2)(3325,10.1)(3333,18.5)(3340,25.8)(3348,13.6)(3355,28.5)(3362,17.0)(3370,16.4)(3377,24.1)(3385,12.2)(3392,20.6)
(3402,16.6)(3409,23.2)(3417,12.2)(3424,25.7)(3431,15.2)(3439,14.7)(3446,21.7)(3454,10.9)(3461,18.5)(3469,24.7)(3476,13.3)(3484,20.0)(3491,9.0)
(3504,10.0)(3511,22.7)(3519,12.8)(3526,12.3)(3533,19.0)(3541,8.7)(3548,15.9)(3555,21.8)(3563,11.0)(3570,17.3)(3578,6.9)(3585,14.1)(3593,20.4)
(3601,9.9)(3609,15.7)(3616,6.8)(3624,13.0)(3631,18.1)(3638,8.8)(3646,14.3)(3653,5.3)(3661,11.5)(3668,16.9)(3676,7.9)(3683,18.9)(3691,10.4)
(3703,13.5)(3710,6.0)(3718,10.4)(3726,3.1)(3733,8.1)(3741,12.5)
};
% blue (+)-only points showing through along the lower envelope
\addplot[dblue, line width=1.2pt, dash pattern=on 3pt off 3.5pt, forget plot] coordinates {(150,96.6)(200,95)(300,91.5)(400,88)(500,84.3)(600,80.6)(700,77.3)(800,74.2)(900,71.4)(1000,68.8)(1100,65)(1200,61.2)(1300,57.6)(1400,54.2)(1500,51.2)(1600,48.6)(1700,45.8)(1800,42.3)(1900,39.4)(2000,37)(2100,34.6)(2200,32.2)(2300,30.1)(2400,28.2)(2500,26.4)(2600,24)(2700,21.6)(2800,19.4)(2900,17.1)(3000,15.1)(3100,13.5)(3200,11.9)(3300,10.1)(3400,8.6)(3500,7.1)(3600,5.6)(3700,3.6)};
\addplot[dblue, line width=1.6pt, forget plot] coordinates {(3750,0)(3990,0)};
\node[anchor=west, font=\fs{9.3}{10}] at (axis cs:30,53.4) {\textbf{Average Gain:} 11.7\%};
\node[anchor=west, font=\fs{9.3}{10}] at (axis cs:30,44.2) {\textbf{Maximum Gain:} 61.7\%};
\addlegendimage{only marks, mark=*, mark size=2.5pt, dblue}
\addlegendentry{All Enzymes (+) Mode Only \textbf{[41.1\%]}}
\addlegendimage{only marks, mark=*, mark size=2.5pt, dorange}
\addlegendentry{All Enzymes (+) Mode and (-) Mode \textbf{[52.7\%]}}
\end{axis}
\end{tikzpicture}
\end{document}
